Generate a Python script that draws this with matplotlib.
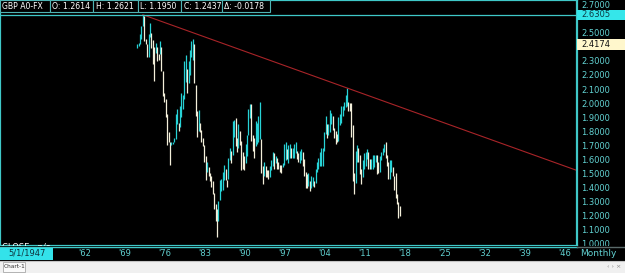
import numpy as np
import matplotlib
matplotlib.use("Agg")
import matplotlib.pyplot as plt
from matplotlib.patches import Rectangle

# quarterly ranges of GBP/USD, first bar = Q1 1971, last bar = Q1 2017
first_year = 1971.0
lows = [
    2.39, 2.41, 2.42, 2.46,  2.55, 2.44, 2.42, 2.33,  2.33, 2.47, 2.39, 2.28,
    2.16, 2.36, 2.30, 2.31,  2.35, 2.23, 2.05, 2.01,  1.90, 1.70, 1.72, 1.56,
    1.70, 1.71, 1.72, 1.74,  1.85, 1.80, 1.83, 1.90,  1.96, 2.03, 2.15, 2.07,
    2.14, 2.20, 2.33, 2.31,  2.14, 1.91, 1.76, 1.80,  1.79, 1.72, 1.69, 1.58,
    1.45, 1.51, 1.48, 1.44,  1.40, 1.35, 1.24, 1.16,  1.04, 1.16, 1.31, 1.37,
    1.38, 1.45, 1.45, 1.40,  1.46, 1.59, 1.57, 1.63,  1.76, 1.69, 1.65, 1.68,
    1.70, 1.52, 1.53, 1.52,  1.57, 1.62, 1.77, 1.89,  1.73, 1.66, 1.61, 1.69,
    1.71, 1.72, 1.74, 1.50,  1.42, 1.48, 1.47, 1.47,  1.46, 1.47, 1.52, 1.55,
    1.53, 1.57, 1.53, 1.53,  1.51, 1.50, 1.54, 1.56,  1.59, 1.60, 1.57, 1.61,
    1.61, 1.61, 1.61, 1.64,  1.60, 1.58, 1.57, 1.59,  1.55, 1.48, 1.39, 1.39,
    1.41, 1.37, 1.39, 1.41,  1.40, 1.43, 1.51, 1.53,  1.55, 1.55, 1.55, 1.66,
    1.78, 1.75, 1.77, 1.79,  1.85, 1.81, 1.75, 1.71,  1.72, 1.73, 1.84, 1.86,
    1.91, 1.95, 1.97, 1.98,  1.94, 1.94, 1.76, 1.44,  1.35, 1.43, 1.58, 1.58,
    1.49, 1.42, 1.47, 1.53,  1.55, 1.60, 1.53, 1.53,  1.53, 1.53, 1.54, 1.58,
    1.49, 1.50, 1.51, 1.59,  1.63, 1.65, 1.61, 1.55,  1.46, 1.46, 1.51, 1.48,
    1.38, 1.32, 1.28, 1.18,  1.195,
]
highs = [
    2.42, 2.43, 2.49, 2.55,  2.6305, 2.62, 2.46, 2.42,  2.49, 2.57, 2.50, 2.45,
    2.40, 2.43, 2.40, 2.35,  2.44, 2.40, 2.23, 2.07,  2.03, 1.92, 1.79, 1.72,
    1.72, 1.72, 1.75, 1.92,  1.96, 1.86, 1.98, 2.07,  2.06, 2.30, 2.34, 2.24,
    2.30, 2.38, 2.44, 2.46,  2.42, 2.13, 1.94, 1.95,  1.86, 1.81, 1.75, 1.70,
    1.62, 1.58, 1.54, 1.50,  1.48, 1.44, 1.36, 1.28,  1.24, 1.30, 1.45, 1.46,
    1.51, 1.56, 1.53, 1.45,  1.61, 1.68, 1.66, 1.87,  1.88, 1.89, 1.75, 1.85,
    1.80, 1.73, 1.65, 1.62,  1.71, 1.77, 1.96, 1.99,  1.99, 1.77, 1.75, 1.87,
    1.86, 1.91, 2.01, 1.74,  1.55, 1.58, 1.55, 1.52,  1.52, 1.55, 1.59, 1.65,
    1.64, 1.62, 1.61, 1.58,  1.56, 1.56, 1.57, 1.71,  1.72, 1.67, 1.70, 1.71,
    1.68, 1.68, 1.71, 1.72,  1.66, 1.64, 1.66, 1.67,  1.65, 1.60, 1.51, 1.49,
    1.50, 1.44, 1.48, 1.47,  1.44, 1.53, 1.58, 1.61,  1.65, 1.68, 1.68, 1.79,
    1.91, 1.85, 1.85, 1.95,  1.93, 1.91, 1.82, 1.80,  1.78, 1.90, 1.92, 1.98,
    1.98, 2.01, 2.06, 2.11,  2.01, 2.00, 2.00, 1.84,  1.50, 1.66, 1.70, 1.68,
    1.63, 1.53, 1.59, 1.64,  1.65, 1.67, 1.65, 1.60,  1.60, 1.63, 1.63, 1.63,
    1.63, 1.58, 1.62, 1.65,  1.68, 1.71, 1.72, 1.63,  1.58, 1.59, 1.59, 1.54,
    1.48, 1.50, 1.35, 1.29,  1.262,
]

# trendline anchors (year, price) and marked levels
trend_from = (1972.125, 2.6305)
trend_to = (2007.7, 2.11)
high_level = 2.6305
marker_level = 2.4174

price_ticks = [2.7, 2.5, 2.3, 2.2, 2.1, 2.0, 1.9, 1.8, 1.7, 1.6, 1.5, 1.4, 1.3, 1.2, 1.1, 1.0]
year_ticks = [1962, 1969, 1976, 1983, 1990, 1997, 2004, 2011, 2018, 2025, 2032, 2039, 2046]
header = ["GBP A0-FX", "O: 1.2614", "H: 1.2621", "L: 1.1950", "C: 1.2437", "\u0394: -0.0178"]

W, H = 625, 273
CYAN = "#3fc8c8"
TEAL_TXT = "#62d2d2"
UP = "#27d2d6"
DOWN = "#f3efda"

plt.rcParams["font.family"] = "DejaVu Sans"

fig = plt.figure(figsize=(W / 100, H / 100), dpi=100, facecolor="black")


def fx(x):
    return x / W


def fy(y):
    return 1 - y / H


ax = fig.add_axes([0, fy(246), fx(577), 246 / H], facecolor="black")
ax.set_xlim(1947.11, 2048.16)
ax.set_ylim(0.9786, 2.7357)

lo = np.array(lows)
hi = np.array(highs)
xs = first_year + 0.125 + 0.25 * np.arange(len(lo))
mid = (lo + hi) / 2
rising = np.r_[True, mid[1:] >= mid[:-1]]
cols = [UP if r else DOWN for r in rising]
ax.vlines(xs, lo, hi, colors=cols, linewidth=0.9)

# trendline from the 1972 top through the 2007 top, extended right
slope = (trend_to[1] - trend_from[1]) / (trend_to[0] - trend_from[0])
x_end = ax.get_xlim()[1]
ax.plot([trend_from[0], x_end], [trend_from[1], trend_from[1] + slope * (x_end - trend_from[0])],
        color="#a82428", linewidth=0.8)
ax.axhline(high_level, color=CYAN, linewidth=0.9)

for s in ax.spines.values():
    s.set_color(CYAN)
    s.set_linewidth(1.6)

ax.set_xticks([])
ax.yaxis.tick_right()
ax.set_yticks(price_ticks)
ax.set_yticklabels([f"{p:.4f}" for p in price_ticks])
ax.tick_params(axis="y", length=0, pad=2.9, labelcolor=TEAL_TXT, labelsize=6)

# price boxes on the right scale
for lvl, bg, fg in [(high_level, "#35e6ea", "#0d3a44"), (marker_level, "#fff7cc", "#111111")]:
    ax.add_patch(Rectangle((1.0, lvl - 0.037), 48 / 577, 0.074,
                           transform=ax.get_yaxis_transform(), clip_on=False,
                           facecolor=bg, edgecolor="none", zorder=5))
    ax.text(581 / 577, lvl, f"{lvl:.4f}", transform=ax.get_yaxis_transform(),
            ha="left", va="center", fontsize=6, color=fg, zorder=6)

# header cells
edges = [0, 50, 93, 138, 181, 222, 270]
for i, txt in enumerate(header):
    x0, x1 = edges[i], edges[i + 1]
    fig.patches.append(Rectangle((fx(x0), fy(12)), fx(x1 - x0), 12 / H,
                                 transform=fig.transFigure, facecolor="black",
                                 edgecolor="#4fb4b4", linewidth=0.8, zorder=4))
    fig.text(fx(x0 + 2.5), fy(6.5), txt, color="white", fontsize=5.6,
             ha="left", va="center", zorder=5)

fig.text(fx(2), fy(247), "CLOSE - n/a", color="white", fontsize=6,
         ha="left", va="center", zorder=2)

# bottom date strip
fig.patches.append(Rectangle((0, fy(261)), 1, 15 / H, transform=fig.transFigure,
                             facecolor="black", edgecolor="none", zorder=2.5))
fig.lines.append(plt.Line2D([0, fx(577)], [fy(246.5), fy(246.5)], transform=fig.transFigure,
                            color=CYAN, linewidth=1, zorder=2.6))
fig.lines.append(plt.Line2D([fx(577), 1], [fy(247), fy(247)], transform=fig.transFigure,
                            color="#5a6a6a", linewidth=1, zorder=2.6))
fig.patches.append(Rectangle((0, fy(259.5)), fx(53), 11.5 / H, transform=fig.transFigure,
                             facecolor="#33e2ea", edgecolor="none", zorder=3))
fig.text(fx(27), fy(253.5), "5/1/1947", color="#10323c", fontsize=6,
         ha="center", va="center", zorder=4)
to_fig = ax.transData + fig.transFigure.inverted()
for yr in year_ticks:
    xf = to_fig.transform((yr, 1.5))[0]
    fig.text(xf, fy(253.5), "'" + str(yr)[-2:], color=TEAL_TXT, fontsize=6,
             ha="center", va="center", zorder=4)
fig.text(fx(580), fy(253.5), "Monthly", color=TEAL_TXT, fontsize=6.5,
         ha="left", va="center", zorder=4)

# tab bar
fig.patches.append(Rectangle((0, 0), 1, 12.5 / H, transform=fig.transFigure,
                             facecolor="#f0f0f0", edgecolor="none", zorder=4))
fig.lines.append(plt.Line2D([0, 1], [fy(260.8), fy(260.8)], transform=fig.transFigure,
                            color="#c4c4c4", linewidth=0.8, zorder=4.5))
fig.patches.append(Rectangle((fx(3), fy(272)), fx(22), 10 / H, transform=fig.transFigure,
                             facecolor="#fafafa", edgecolor="#a8a8a8", linewidth=0.6, zorder=5))
fig.text(fx(14), fy(267), "Chart-1", color="#333333", fontsize=4.2,
         ha="center", va="center", zorder=6)
fig.text(fx(621), fy(267), "\u2039 \u203a \u00d7", color="#8a8a8a", fontsize=4.5,
         ha="right", va="center", zorder=6)

fig.savefig("out.png", dpi=100, facecolor="black")
